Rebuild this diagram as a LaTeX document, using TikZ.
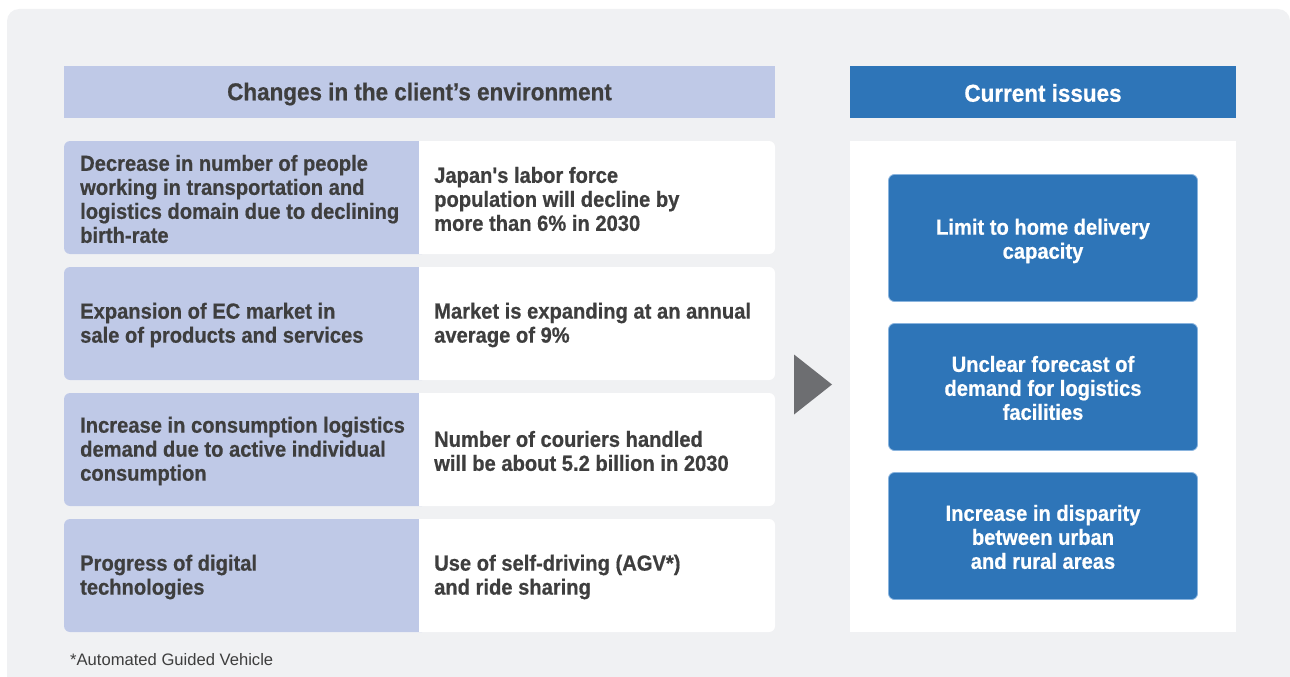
\documentclass[tikz,border=0pt]{standalone}
\usepackage{fontspec}
\setmainfont{Liberation Sans}
\newfontfamily\condbold{Liberation Sans}[UprightFont={* Bold},FakeStretch=0.92,FakeBold=0.6]
\newfontfamily\plainfont{Liberation Sans}
\definecolor{bggray}{HTML}{F0F1F3}
\definecolor{lav}{HTML}{BFC9E7}
\definecolor{issueblue}{HTML}{2E75B8}
\definecolor{edgeblue}{HTML}{8AB4DE}
\definecolor{arrowgray}{HTML}{6D6E71}
\definecolor{txt}{HTML}{3E3E3E}
\begin{document}
\begin{tikzpicture}[x=1pt,y=-1pt,
  rowbox/.style={fill=white,rounded corners=6pt},
  leftcell/.style={fill=lav,rounded corners=6pt},
  celltext/.style={anchor=west,align=left,text=txt,font=\condbold\fontsize{21.9}{24}\selectfont,inner sep=0pt},
  issuebox/.style={fill=issueblue,draw=edgeblue,line width=0.8pt,rounded corners=6pt},
  issuetext/.style={align=center,text=white,font=\condbold\fontsize{21.9}{24}\selectfont,inner sep=0pt},
  headtext/.style={font=\condbold\fontsize{24.4}{28}\selectfont,inner sep=0pt}]
\useasboundingbox (0,0) rectangle (1290,677);
\clip (0,0) rectangle (1290,677);
\fill[bggray,rounded corners=12pt] (7,9) rectangle (1290,700);
% headers
\fill[lav] (64,66) rectangle (775,118);
\node[headtext,text=txt] (h1) at (419.5,94) {Changes in the client’s environment};
\fill[issueblue] (850,66) rectangle (1236,118);
\node[headtext,text=white] (h2) at (1043,93) {Current issues};
% rows
\foreach \t in {141,267,393,519}{
  \fill[rowbox] (64,\t) rectangle (775,\t+113);
  \fill[leftcell] (64,\t) rectangle (428,\t+113);
  \fill[white] (419,\t) rectangle (430,\t+113);
}
\node[celltext] (l1) at (80,199) {Decrease in number of people\\working in transportation and\\logistics domain due to declining\\birth-rate};
\node[celltext] (r1) at (434,199) {Japan{\char"0027}s labor force\\population will decline by\\more than 6\% in 2030};
\node[celltext] (l2) at (80,325) {Expansion of EC market in\\sale of products and services};
\node[celltext] (r2) at (434,325) {Market is expanding at an annual\\average of 9\%};
\node[celltext] (l3) at (80,451) {Increase in consumption logistics\\demand due to active individual\\consumption};
\node[celltext] (r3) at (434,451) {Number of couriers handled\\will be about 5.2 billion in 2030};
\node[celltext] (l4) at (80,577) {Progress of digital\\technologies};
\node[celltext] (r4) at (434,577) {Use of self-driving (AGV*)\\and ride sharing};
% arrow
\fill[arrowgray] (794,354.5) -- (832,384.5) -- (794,414.5) -- cycle;
% right panel
\fill[white] (850,141) rectangle (1236,632);
\draw[issuebox] (888.5,174.5) rectangle (1197.5,301.5);
\node[issuetext] (i1) at (1043,241) {Limit to home delivery\\capacity};
\draw[issuebox] (888.5,323.5) rectangle (1197.5,450.5);
\node[issuetext] (i2) at (1043,388) {Unclear forecast of\\demand for logistics\\facilities};
\draw[issuebox] (888.5,472.5) rectangle (1197.5,599.5);
\node[issuetext] (i3) at (1043,537) {Increase in disparity\\between urban\\and rural areas};
% footnote
\node[anchor=base west,inner sep=0pt,text=txt,font=\plainfont\fontsize{16.6}{19}\selectfont] (fn) at (70,665) {*Automated Guided Vehicle};
\end{tikzpicture}
\end{document}
